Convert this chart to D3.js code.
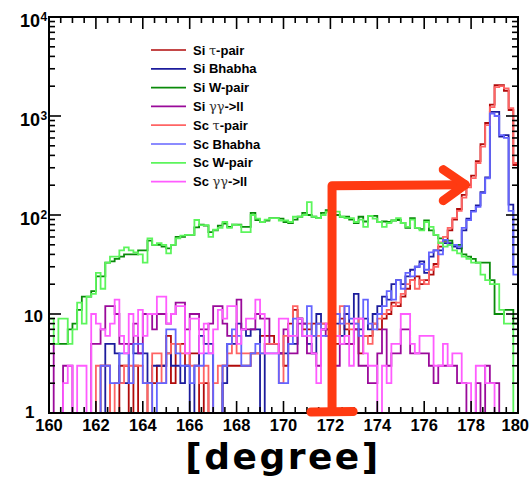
<!DOCTYPE html>
<html>
<head>
<meta charset="utf-8">
<script src="https://cdn.jsdelivr.net/npm/d3@7"></script>
<style>
  html, body { margin: 0; padding: 0; background: #fff; }
  svg { display: block; }
</style>
</head>
<body>
<svg id="chart" width="530" height="477"></svg>
<script>
// Histogram binning: 100 bins of 0.2 degree between 160 and 180
const binLow = 160;
const binHigh = 180;
const binCount = 100;

// Entries per bin (bins ordered from 160 to 180 degrees)
const siTauPair = [
  0,0,0,0,0,0,0,0,0,0, 1,3,3,1,1,3,3,1,3,0,
  1,2,2,3,3,6,2,5,5,3, 4,4,1,2,0,1,0,3,3,3,
  3,3,3,4,4,6,6,6,5,4, 3,8,11,9,7,7,8,8,7,7,
  4,5,9,7,5,7,4,6,6,8, 7,9,10,13,12,15,18,22,24,20,
  22,25,32,48,55,70,90,115,160,200, 250,350,520,850,1300,2050,2050,1800,1150,320
];
const siBhabha = [
  0,0,0,0,0,0,0,0,0,0, 0,1,5,5,4,2,2,5,4,4,
  4,2,3,3,3,4,3,3,2,3, 0,3,6,5,5,0,1,2,5,5,
  8,7,6,7,7,0,5,5,5,4, 4,5,5,9,8,5,4,10,7,7,
  5,8,6,10,8,16,7,9,7,10, 12,15,14,20,22,20,24,28,30,34,
  26,38,44,44,52,52,48,46,70,92, 110,125,170,240,1100,1100,620,640,127,30
];
const siWPair = [
  5,5,5,5,7,8,11,15,15,17, 24,24,33,34,36,38,40,40,40,44,
  44,55,50,50,48,46,50,60,60,63, 63,75,80,78,67,70,78,82,76,80,
  80,76,76,105,89,85,88,93,93,92, 85,83,90,96,105,100,96,93,105,112,
  110,100,96,96,90,83,96,86,98,98, 85,86,85,88,89,83,74,93,74,72,
  88,70,63,58,55,55,50,50,40,38, 36,33,33,33,22,10,10,11,11,8
];
const siGammaGamma = [
  5,1,0,3,3,0,0,0,0,5, 5,7,12,12,10,5,5,5,8,4,
  10,10,7,10,10,8,10,13,13,7, 10,10,7,7,8,12,12,8,6,6,
  14,7,7,7,10,9,9,5,5,4, 7,4,4,8,8,4,4,3,8,6,
  5,3,5,5,5,7,3,3,2,2, 4,7,3,4,4,7,7,4,4,4,
  4,3,2,3,3,3,3,2,2,0, 0,2,0,3,2,2,0,0,0,0
];
const scTauPair = [
  0,0,0,0,0,0,0,0,0,0, 3,3,3,1,2,2,3,3,3,3,
  2,0,4,4,2,4,5,5,4,4, 3,3,2,3,0,2,3,3,4,6,
  4,4,4,4,4,4,5,5,5,2, 6,6,12,9,6,8,6,6,8,8,
  5,6,12,8,7,8,9,6,5,8, 9,10,11,12,13,16,20,22,18,22,
  20,28,30,53,60,74,93,110,150,190, 236,335,490,810,1230,1960,2000,1900,1200,335
];
const scBhabha = [
  0,0,0,0,0,0,0,0,0,0, 1,3,3,2,2,4,4,2,5,5,
  2,2,0,2,2,7,7,4,3,3, 2,3,3,4,4,0,1,3,5,7,
  6,3,3,4,5,4,4,4,4,2, 2,5,9,9,6,12,6,8,6,6,
  4,10,8,12,9,8,6,14,8,7, 10,12,17,14,22,18,26,24,30,32,
  28,42,44,40,56,50,50,48,74,89, 108,121,166,235,1060,1000,640,600,110,25
];
const scWPair = [
  9,5,9,9,5,7,13,8,15,16, 26,18,33,38,38,44,47,44,42,40,
  33,58,50,52,50,41,50,58,62,63, 63,89,79,79,60,71,74,85,74,80,
  79,67,67,100,92,85,90,93,93,88, 88,85,96,96,100,135,96,93,100,108,
  112,108,96,93,93,85,90,76,98,92, 85,76,83,88,93,83,76,90,74,70,
  85,76,63,52,48,50,44,41,38,36, 33,33,25,22,20,20,11,8,8,0
];
const scGammaGamma = [
  0,0,0,2,3,0,3,3,0,10, 8,7,6,8,14,6,4,10,6,11,
  6,10,10,15,15,8,10,12,12,4, 9,9,4,8,4,7,11,9,12,12,
  5,7,9,9,14,10,4,4,4,9, 9,6,6,9,6,6,4,2,7,8,
  4,6,5,6,3,9,9,4,3,3, 0,3,2,5,5,10,10,5,4,6,
  6,6,3,3,5,3,4,4,2,2, 0,3,3,2,2,1,0,0,0,0
];

// Legend labels, in drawing order
const seriesNames = [
  "Si \u03c4-pair", "Si Bhabha", "Si W-pair", "Si \u03b3\u03b3->ll",
  "Sc \u03c4-pair", "Sc Bhabha", "Sc W-pair", "Sc \u03b3\u03b3->ll"
];
const seriesValues = [
  siTauPair, siBhabha, siWPair, siGammaGamma,
  scTauPair, scBhabha, scWPair, scGammaGamma
];
const seriesColors = [
  "#b00a0a", "#1c1c9c", "#0a8a0a", "#9a0a9a",
  "#ff6464", "#6464ff", "#5cf55c", "#ff5cff"
];

// Axis tick labels
const xTickValues = [160,162,164,166,168,170,172,174,176,178,180];
const yDecades = [0,1,2,3,4];
const xTitle = "[degree]";

// Hand-drawn marker, in data coordinates
const markerX = 172.07;
const markerHalfWidth = 0.9;
const markerTop = 198;
const arrowTipX = 177.75;

const svg = d3.select("#chart");
const frame = { left: 49, right: 518, top: 17, bottom: 413 };

const x = d3.scaleLinear().domain([binLow, binHigh]).range([frame.left, frame.right]);
const y = d3.scaleLog().domain([1, 1e4]).range([frame.bottom, frame.top]);

const binWidth = (binHigh - binLow) / binCount;

svg.append("defs").append("clipPath").attr("id", "plotClip")
  .append("rect")
  .attr("x", frame.left).attr("y", frame.top)
  .attr("width", frame.right - frame.left)
  .attr("height", frame.bottom - frame.top);

// Histograms as step outlines; empty bins sit on the lower edge
const step = d3.line()
  .x(d => x(d[0]))
  .y(d => y(Math.max(1, d[1])))
  .curve(d3.curveStepAfter);

const plot = svg.append("g").attr("clip-path", "url(#plotClip)");
seriesValues.forEach((vals, k) => {
  const pts = vals.map((v, i) => [binLow + i * binWidth, v]);
  pts.push([binHigh, vals[vals.length - 1]]);
  plot.append("path")
    .attr("d", step(pts))
    .attr("fill", "none")
    .attr("stroke", seriesColors[k])
    .attr("stroke-width", 1.8)
    .attr("stroke-linejoin", "miter");
});

// Frame and ticks on all four sides
const axes = svg.append("g").attr("stroke", "#000");
axes.append("rect")
  .attr("x", frame.left).attr("y", frame.top)
  .attr("width", frame.right - frame.left)
  .attr("height", frame.bottom - frame.top)
  .attr("fill", "none").attr("stroke-width", 2);

const xMinor = d3.range(binLow, binHigh + 0.001, 0.5);
xMinor.forEach(v => {
  const major = Math.abs(v / 2 - Math.round(v / 2)) < 1e-6;
  const len = major ? 12 : 6;
  const px = x(v);
  axes.append("line").attr("x1", px).attr("x2", px)
    .attr("y1", frame.bottom).attr("y2", frame.bottom - len).attr("stroke-width", 1.6);
  axes.append("line").attr("x1", px).attr("x2", px)
    .attr("y1", frame.top).attr("y2", frame.top + len).attr("stroke-width", 1.6);
});

yDecades.forEach(e => {
  const base = Math.pow(10, e);
  const mults = e < 4 ? d3.range(1, 10) : [1];
  mults.forEach(m => {
    const v = base * m;
    const len = m === 1 ? 12 : 6;
    const py = y(v);
    axes.append("line").attr("x1", frame.left).attr("x2", frame.left + len)
      .attr("y1", py).attr("y2", py).attr("stroke-width", 1.6);
    axes.append("line").attr("x1", frame.right).attr("x2", frame.right - len)
      .attr("y1", py).attr("y2", py).attr("stroke-width", 1.6);
  });
});

// Tick labels
const labelFont = "'Liberation Sans', Arial, Helvetica, sans-serif";
svg.append("g").selectAll("text").data(xTickValues).join("text")
  .attr("x", d => d === binHigh ? 529 : x(d))
  .attr("y", 431)
  .attr("text-anchor", d => d === binHigh ? "end" : "middle")
  .attr("font-family", labelFont)
  .attr("font-weight", "bold")
  .attr("font-size", 16.5)
  .text(d => d);

const yLabels = svg.append("g")
  .attr("font-family", labelFont)
  .attr("font-weight", "bold");
yDecades.forEach(e => {
  const py = y(Math.pow(10, e));
  if (e === 0) {
    yLabels.append("text").attr("x", 34.5).attr("y", py + 5)
      .attr("text-anchor", "end").attr("font-size", 17).text("1");
  } else if (e === 1) {
    yLabels.append("text").attr("x", 43).attr("y", py + 8)
      .attr("text-anchor", "end").attr("font-size", 17).text("10");
  } else {
    yLabels.append("text").attr("x", 40).attr("y", py + 10)
      .attr("text-anchor", "end").attr("font-size", 18).text("10");
    yLabels.append("text").attr("x", 40.5).attr("y", py + 4)
      .attr("text-anchor", "start").attr("font-size", 12).text(e);
  }
});

// Axis title
svg.append("text")
  .attr("x", 283).attr("y", 469)
  .attr("text-anchor", "middle")
  .attr("font-family", "'DejaVu Sans', sans-serif")
  .attr("font-weight", "bold")
  .attr("font-size", 36)
  .attr("letter-spacing", 2.5)
  .text(xTitle);

// Legend
const legend = svg.append("g");
const legendTop = 50, legendStep = 18.8;
seriesNames.forEach((name, k) => {
  const ly = legendTop + k * legendStep;
  legend.append("line")
    .attr("x1", 151).attr("x2", 186)
    .attr("y1", ly).attr("y2", ly)
    .attr("stroke", seriesColors[k]).attr("stroke-width", 1.7);
  const t = legend.append("text")
    .attr("x", 193).attr("y", ly + 4.5)
    .attr("font-family", labelFont)
    .attr("font-size", 13)
    .attr("font-weight", "bold");
  name.split(/([\u03b3\u03c4]+)/).filter(s => s.length).forEach(part => {
    const greek = /[\u03b3\u03c4]/.test(part);
    t.append("tspan")
      .attr("font-weight", greek ? "normal" : "bold")
      .attr("font-family", greek ? "'DejaVu Serif', serif" : labelFont)
      .attr("fill", greek ? "#333" : "#000")
      .text(part);
  });
});

// Hand-drawn marker: vertical bar from the axis, turning right into an arrow
const markerColor = "#ff3a12";
const marker = svg.append("g")
  .attr("fill", "none")
  .attr("stroke", markerColor)
  .attr("stroke-width", 9)
  .attr("stroke-linecap", "round")
  .attr("stroke-linejoin", "round");
const mx = x(markerX), my0 = y(1) - 2, myTop = y(markerTop), tip = x(arrowTipX);
marker.append("path").attr("d", d3.line()([[mx, my0], [mx, myTop], [tip, myTop - 1]]));
marker.append("path").attr("d", d3.line()([[x(markerX - markerHalfWidth), my0 + 1], [x(markerX + markerHalfWidth), my0 + 0.5]]));
marker.append("path").attr("d", d3.line()([[tip - 22, myTop - 16], [tip, myTop - 1], [tip - 22, myTop + 15]]));
</script>
</body>
</html>
